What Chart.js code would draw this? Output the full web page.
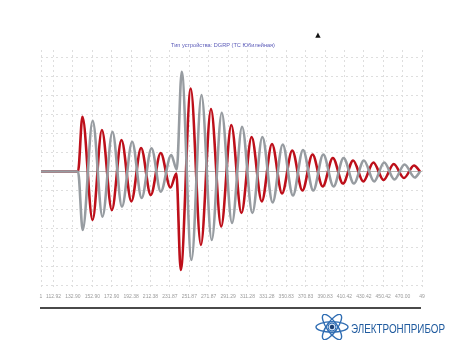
<!DOCTYPE html>
<html><head><meta charset="utf-8">
<script src="https://cdn.jsdelivr.net/npm/chart.js@4.4.1/dist/chart.umd.min.js"></script>
<style>
html,body{margin:0;padding:0;background:#fff;width:455px;height:356px;overflow:hidden;}
#wrap{position:relative;width:455px;height:356px;}
#c{position:absolute;left:0;top:0;}
#sep{position:absolute;left:40px;top:307px;width:381px;height:2px;background:#4a4a4a;}
#atom{position:absolute;left:314px;top:314px;}
#brand{position:absolute;left:351px;top:322px;font-family:"Liberation Sans Narrow","Liberation Sans",Arial,sans-serif;font-size:13px;color:#1f5a9e;white-space:nowrap;transform-origin:0 0;line-height:1;}
</style></head>
<body>
<div id="wrap">
<canvas id="c" width="455" height="356"></canvas>
<div id="sep"></div>
<svg id="atom" width="36" height="26" viewBox="0 0 36 26">
  <g fill="none" stroke="#2f6db3" stroke-width="1.4">
    <ellipse cx="18" cy="13" rx="16" ry="5.2"/>
    <ellipse cx="18" cy="13" rx="15" ry="5.2" transform="rotate(55 18 13)"/>
    <ellipse cx="18" cy="13" rx="15" ry="5.2" transform="rotate(-55 18 13)"/>
  </g>
  <circle cx="18" cy="13" r="4" fill="#cfe0f2" stroke="#2f6db3" stroke-width="1"/>
  <circle cx="18" cy="13" r="2.2" fill="#1b3f73"/>
</svg>
<div id="brand">ЭЛЕКТРОНПРИБОР</div>
</div>
<script>
// ---- data ----
const chartTitle = "Тип устройства: DGRP (ТС Юбилейная)";
const xTickLabels = ["1","112.92","132.90","152.90","172.90","192.38","212.38","231.87","251.87","271.87","291.29","311.28","331.28","350.83","370.83","390.83","410.42","430.42","450.42","470.00","49"];
const xMin = 100, xFirstTick = 112.92, xStep = 20, xMax = 492.92;
const yGrid = [-114,-95,-76,-57,-38,-19,0,19,38,57,76,95,114];
const yMin = -118.5, yMax = 121.5;

// grey trace: extremum times (ms) and values
const grayT = [100,138.2,143.0,153.3,163.4,173.7,183.5,194.0,203.8,214.0,223.5,234.3,240.0,
  245.1,255.2,265.5,276.1,286.4,297.0,307.4,318.0,328.3,338.9,349.3,359.8,370.2,380.8,391.1,401.7,412.1,422.7,433.0,443.6,453.9,464.5,474.9,485.5,490.9];
const grayV = [0,0,-58.5,50.8,-45.2,39.8,-35.2,29.8,-26.5,23.2,-20.2,16.5,2,
  99.8,-88.5,76.5,-68.5,58.8,-51.5,44.8,-41.5,34.5,-31,27,-24,21.5,-19,17,-15,13.5,-12,11,-10,9,-8,7,-6,0];
// red trace
const redT = [100,138.2,142.7,153.2,162.8,173.1,183.0,193.2,203.2,213.2,223.4,233.5,239.6,
  244.1,254.4,264.9,275.3,285.8,296.3,306.7,317.2,327.7,338.2,348.6,359.1,369.6,380.0,390.5,401.0,411.4,421.9,432.4,442.8,453.3,463.8,474.3,484.7,490.9];
const redV = [0,0,54.8,-48.5,41.5,-38.5,31.5,-30,23.5,-23.5,18.5,-16,-2,
  -98.5,83,-73.5,62.5,-55,46.5,-41.5,34.5,-30,27.5,-22,21,-19,17,-15,13.5,-12,11,-10,9,-8.5,7.5,-6.5,6,0];

const toXY = (t, v) => t.map((x, i) => ({x, y: v[i]}));
const xTicks = [xMin].concat(xTickLabels.slice(1).map((_, i) => xFirstTick + xStep * i));

const titlePlugin = {
  id: 'titleText',
  afterDraw(chart) {
    const ctx = chart.ctx;
    ctx.save();
    ctx.font = '5.6px "Liberation Sans", Arial, sans-serif';
    ctx.fillStyle = '#5a5ab8';
    ctx.textAlign = 'center';
    ctx.textBaseline = 'middle';
    ctx.fillText(chartTitle, 223, 45);
    ctx.fillStyle = '#111';
    ctx.font = 'bold 7px "DejaVu Sans", sans-serif';
    ctx.fillText('▲', 318, 35);
    ctx.restore();
  }
};

new Chart(document.getElementById('c'), {
  type: 'line',
  data: {
    datasets: [
      {data: toXY(grayT, grayV), borderColor: '#979ca1', borderWidth: 2.6},
      {data: toXY(redT, redV), borderColor: '#bd0f1a', borderWidth: 2.6}
    ]
  },
  options: {
    responsive: false,
    animation: false,
    devicePixelRatio: 1,
    elements: {point: {radius: 0}, line: {cubicInterpolationMode: 'monotone', fill: false}},
    layout: {padding: {left: 41, right: 33, top: 50, bottom: 52}},
    plugins: {legend: {display: false}, tooltip: {enabled: false}, title: {display: false}},
    scales: {
      x: {
        type: 'linear', min: xMin, max: xMax,
        afterBuildTicks: s => { s.ticks = xTicks.map(v => ({value: v})); },
        afterFit: s => { s.height = 14; },
        ticks: {
          autoSkip: false, maxRotation: 0, padding: 4,
          color: '#9a9a9a', font: {size: 5, family: 'Liberation Sans'},
          callback: (v, i) => xTickLabels[i]
        },
        grid: {color: '#dedede', lineWidth: 1, drawTicks: false},
        border: {display: false, dash: [2, 3]}
      },
      y: {
        type: 'linear', min: yMin, max: yMax,
        afterBuildTicks: s => { s.ticks = yGrid.map(v => ({value: v})); },
        afterFit: s => { s.width = 0; },
        ticks: {display: false},
        grid: {
          drawTicks: false, lineWidth: 1,
          color: c => (c.tick && c.tick.value === 0) ? '#b5b5b5' : '#dedede'
        },
        border: {display: false, dash: c => (c.tick && c.tick.value === 0) ? [] : [2, 3]}
      }
    }
  },
  plugins: [titlePlugin]
});

const brand = document.getElementById('brand');
const w = brand.getBoundingClientRect().width;
if (w > 0) brand.style.transform = 'scaleX(' + (94 / w) + ')';
</script>
</body></html>
